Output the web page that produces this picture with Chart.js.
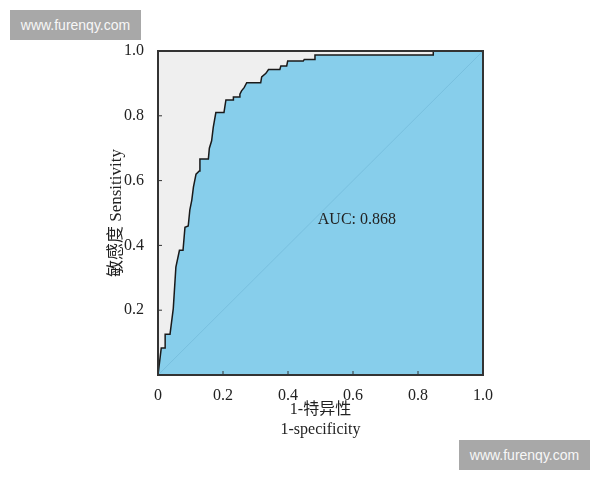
<!DOCTYPE html>
<html>
<head>
<meta charset="utf-8">
<script src="https://cdn.jsdelivr.net/npm/chart.js@4.4.0/dist/chart.umd.min.js"></script>
<style>
    body { margin: 0; background: #fff; }
    #wrap { position: relative; width: 600px; height: 480px; }
    .mark {
        position: absolute; width: 131px; height: 30px;
        background: #a8a8a8; color: #f7f7f7; text-align: center;
        font: 14px 'Liberation Sans', Arial, sans-serif;
        line-height: 30px;
    }
</style>
</head>
<body>
<div id="wrap">
    <canvas id="rocChart" width="600" height="480"></canvas>
    <div class="mark" style="left:10px; top:10px;">www.furenqy.com</div>
    <div class="mark" style="left:459px; top:440px;">www.furenqy.com</div>
</div>
<script>
// ROC curve points (1-specificity, sensitivity)
const fpr = [0, 0.01, 0.022, 0.022, 0.037, 0.047, 0.055, 0.066, 0.077, 0.083, 0.093, 0.098,
    0.104, 0.109, 0.117, 0.127, 0.129, 0.155, 0.158, 0.165, 0.17, 0.178, 0.203, 0.206,
    0.209, 0.232, 0.232, 0.252, 0.252, 0.257, 0.265, 0.273, 0.316, 0.319, 0.332, 0.34,
    0.375, 0.378, 0.396, 0.399, 0.447, 0.45, 0.48, 0.483, 0.847, 0.847, 1];
const tpr = [0, 0.083, 0.083, 0.126, 0.126, 0.205, 0.333, 0.385, 0.385, 0.456, 0.46, 0.51,
    0.54, 0.58, 0.62, 0.63, 0.667, 0.667, 0.70, 0.723, 0.764, 0.81, 0.81, 0.83,
    0.849, 0.849, 0.858, 0.858, 0.867, 0.877, 0.887, 0.902, 0.902, 0.92, 0.931, 0.943,
    0.943, 0.954, 0.954, 0.969, 0.969, 0.974, 0.974, 0.988, 0.988, 1, 1];
const diagonal = [0, 1];
const tickValues = [0, 0.2, 0.4, 0.6, 0.8, 1.0];
const aucLabel = 'AUC: 0.868';

const serif = "'Liberation Serif', 'Times New Roman', 'Noto Sans CJK SC', serif";
const textColor = '#222';

const rocPoints = fpr.map((x, i) => ({ x: x, y: tpr[i] }));
const diagPoints = diagonal.map(v => ({ x: v, y: v }));

// gray background, frame, inner ticks and the AUC label
const plotDecor = {
    id: 'plotDecor',
    beforeDatasetsDraw(chart) {
        const { ctx, chartArea: a } = chart;
        ctx.save();
        ctx.fillStyle = '#efefef';
        ctx.fillRect(a.left, a.top, a.right - a.left, a.bottom - a.top);
        ctx.restore();
    },
    afterDraw(chart) {
        const { ctx, chartArea: a, scales } = chart;
        ctx.save();
        ctx.strokeStyle = '#333';
        ctx.lineWidth = 1;
        tickValues.slice(1, -1).forEach(v => {
            const px = scales.x.getPixelForValue(v);
            const py = scales.y.getPixelForValue(v);
            ctx.beginPath();
            ctx.moveTo(px, a.bottom); ctx.lineTo(px, a.bottom - 4);
            ctx.moveTo(a.left, py); ctx.lineTo(a.left + 4, py);
            ctx.stroke();
        });
        ctx.lineWidth = 2;
        ctx.strokeRect(a.left, a.top, a.right - a.left, a.bottom - a.top);

        ctx.fillStyle = textColor;
        ctx.font = '16px ' + serif;
        ctx.textAlign = 'center';
        ctx.textBaseline = 'middle';
        ctx.fillText(aucLabel, scales.x.getPixelForValue(0.612), scales.y.getPixelForValue(0.48));
        ctx.restore();
    }
};

new Chart(document.getElementById('rocChart').getContext('2d'), {
    type: 'scatter',
    data: {
        datasets: [{
            data: diagPoints,
            showLine: true,
            borderColor: 'rgba(95, 165, 200, 0.35)',
            borderWidth: 1,
            pointRadius: 0,
            fill: false
        }, {
            data: rocPoints,
            showLine: true,
            borderColor: '#1a1a1a',
            borderWidth: 1.5,
            pointRadius: 0,
            backgroundColor: '#87ceeb',
            fill: 'start'
        }]
    },
    options: {
        responsive: false,
        animation: false,
        layout: { padding: { left: 100, top: 51, right: 117, bottom: 0 } },
        plugins: {
            legend: { display: false },
            tooltip: { enabled: false }
        },
        scales: {
            x: {
                type: 'linear', min: 0, max: 1,
                grid: { display: false },
                border: { display: false },
                afterFit: s => { s.height = 105; },
                afterBuildTicks: s => { s.ticks = tickValues.map(v => ({ value: v })); },
                ticks: {
                    padding: 3,
                    color: textColor,
                    font: { family: serif, size: 16 },
                    callback: v => v === 0 ? '0' : v.toFixed(1)
                },
                title: {
                    display: true,
                    text: ['1-特异性', '1-specificity'],
                    color: textColor,
                    font: { family: serif, size: 16, lineHeight: 1.25 },
                    padding: { top: 0, bottom: 40 }
                }
            },
            y: {
                type: 'linear', min: 0, max: 1,
                grid: { display: false },
                border: { display: false },
                afterFit: s => { s.width = 58; },
                afterBuildTicks: s => { s.ticks = tickValues.map(v => ({ value: v })); },
                ticks: {
                    padding: 6,
                    color: textColor,
                    font: { family: serif, size: 16 },
                    callback: v => v === 0 ? '' : v.toFixed(1)
                },
                title: {
                    display: true,
                    text: '敏感度 Sensitivity',
                    color: textColor,
                    font: { family: serif, size: 17, lineHeight: 1.2 },
                    padding: { top: 6, bottom: 0 }
                }
            }
        }
    },
    plugins: [plotDecor]
});
</script>
</body>
</html>
